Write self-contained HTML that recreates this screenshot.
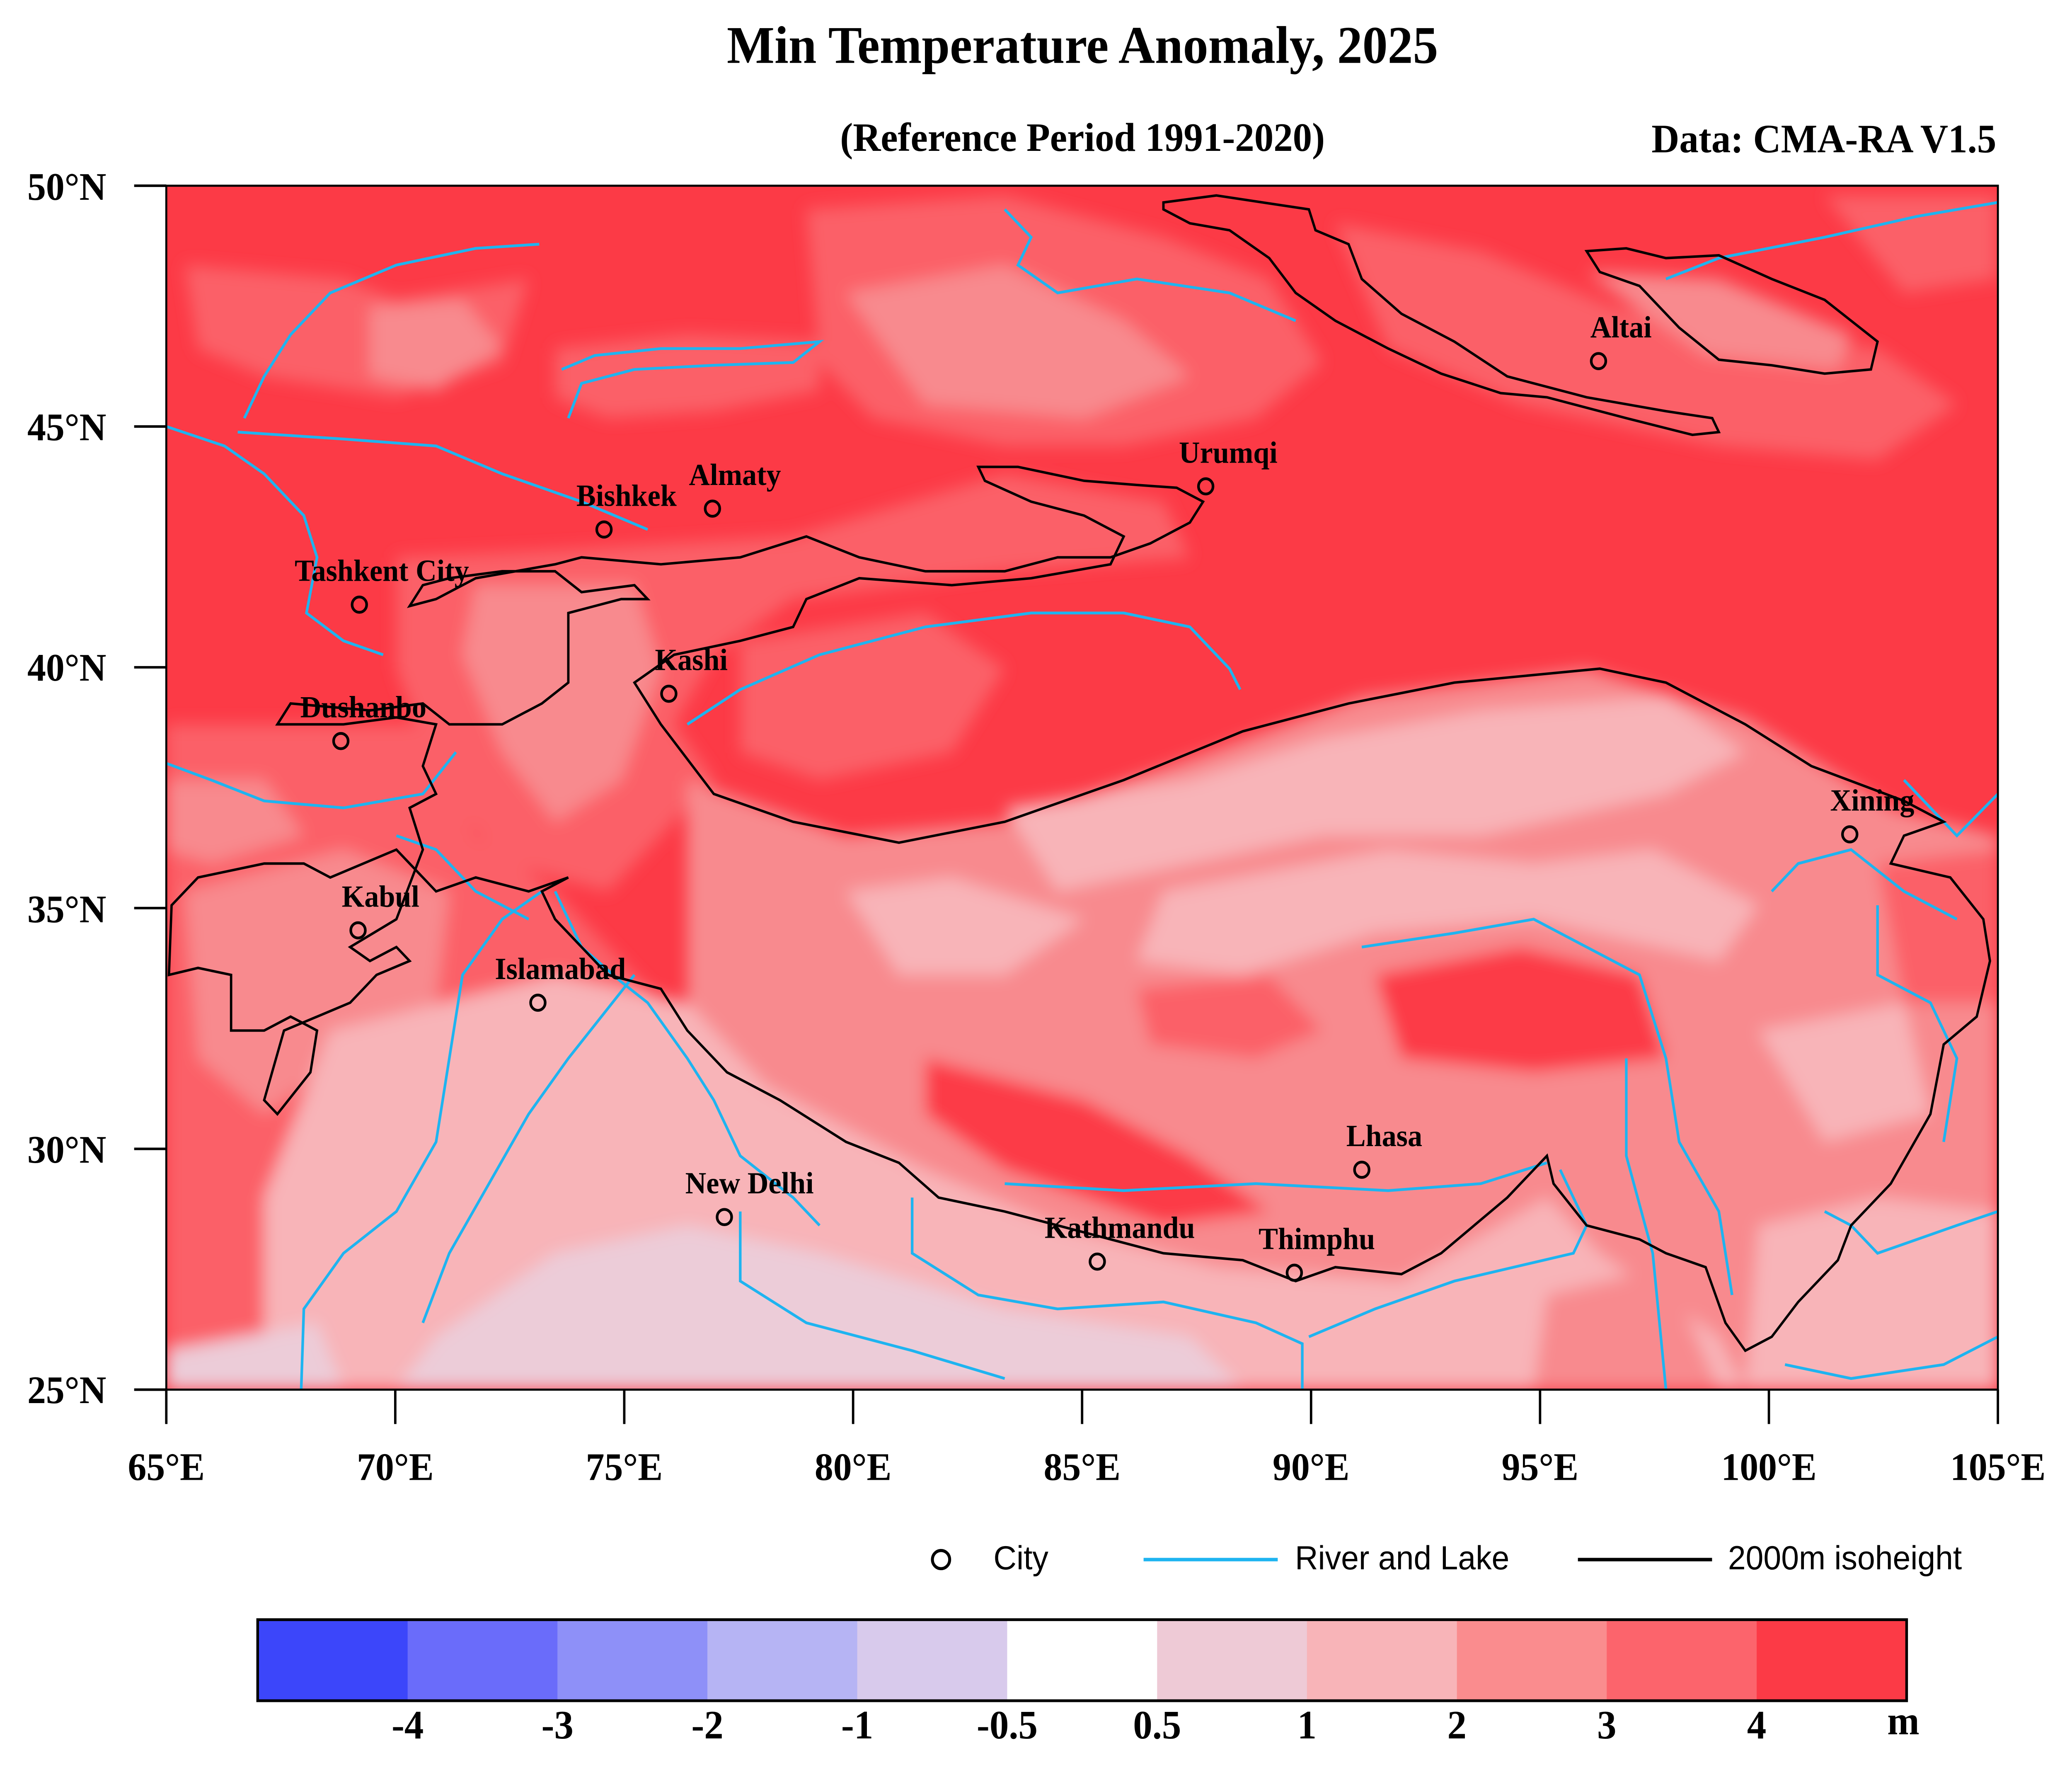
<!DOCTYPE html>
<html><head><meta charset="utf-8"><style>
html,body{margin:0;padding:0;background:#fff;width:100vw;height:100vh;overflow:hidden;}
#w{position:fixed;left:0;top:0;width:100vw;height:100vh;overflow:hidden;}
svg{display:block;width:100vw;height:100vh;}
</style></head><body><div id="w">
<svg xmlns="http://www.w3.org/2000/svg" viewBox="0 0 1560 1268" preserveAspectRatio="none">
<defs>
<filter id="b" x="-10%" y="-10%" width="120%" height="120%"><feGaussianBlur stdDeviation="6"/></filter>
<clipPath id="c"><rect x="126" y="133" width="1385" height="865"/></clipPath>
</defs>
<rect width="1560" height="1268" fill="#fff"/>
<g font-family="Liberation Serif, serif" font-weight="bold" fill="#000">
<text x="815" y="45" font-size="38" text-anchor="middle">Min Temperature Anomaly, 2025</text>
<text x="815" y="108" font-size="29" text-anchor="middle">(Reference Period 1991-2020)</text>
<text x="1503" y="109" font-size="29" text-anchor="end">Data: CMA-RA V1.5</text>
</g>
<g transform="translate(125.2,132.9) scale(0.99567,0.99595) translate(-126,-133)">
<g clip-path="url(#c)">
<rect x="126" y="133" width="1385" height="865" fill="#fc3a46"/>
<g filter="url(#b)">
<path d="M140,190 L260,200 L300,215 L400,200 L380,260 L300,285 L200,270 L150,250 Z" fill="#fb6068"/>
<path d="M280,220 L350,215 L380,250 L330,280 L280,270 Z" fill="#f88a8e"/>
<path d="M420,250 L520,240 L620,245 L620,280 L540,295 L460,300 L420,285 Z" fill="#fb6068"/>
<path d="M610,150 L760,140 L880,170 L960,200 L1000,260 L950,300 L850,320 L760,320 L660,300 L620,260 Z" fill="#fb6068"/>
<path d="M640,210 L760,190 L850,230 L900,270 L820,300 L700,290 Z" fill="#f88a8e"/>
<path d="M1010,160 L1120,180 L1220,220 L1420,250 L1480,290 L1420,330 L1300,320 L1150,290 L1050,250 Z" fill="#fb6068"/>
<path d="M1200,195 L1300,200 L1400,240 L1390,265 L1290,255 Z" fill="#f88a8e"/>
<path d="M1380,140 L1510,140 L1510,200 L1440,210 Z" fill="#fb6068"/>
<path d="M300,400 L420,395 L600,385 L760,340 L880,360 L900,400 L760,410 L600,430 L540,470 L510,520 L540,560 L500,600 L460,640 L380,620 L330,560 L300,480 Z" fill="#fb6068"/>
<path d="M360,420 L480,420 L500,480 L470,560 L420,590 L380,540 L350,470 Z" fill="#f88a8e"/>
<path d="M560,460 L700,440 L760,480 L720,540 L620,560 L560,540 Z" fill="#fb6068"/>
<path d="M126,520 L320,520 L360,600 L420,640 L480,700 L520,740 L520,998 L126,998 Z" fill="#fb6068"/>
<path d="M140,640 L260,610 L340,640 L330,720 L260,760 L200,800 L150,760 Z" fill="#f88a8e"/>
<path d="M126,560 L200,560 L230,600 L160,620 L126,610 Z" fill="#f88a8e"/>
<path d="M520,560 L640,600 L760,590 L900,545 L1030,500 L1200,480 L1320,515 L1430,580 L1511,600 L1511,998 L520,998 Z" fill="#f88a8e"/>
<path d="M760,580 L900,560 L1000,530 L1120,510 L1260,500 L1320,540 L1260,570 L1120,600 L1000,600 L900,620 L800,640 Z" fill="#f8b4b8"/>
<path d="M880,640 L1050,610 L1160,620 L1250,610 L1330,650 L1300,690 L1160,660 L1040,670 L940,700 L860,690 Z" fill="#f8b4b8"/>
<path d="M640,640 L720,630 L820,660 L760,700 L680,700 Z" fill="#f8b4b8"/>
<path d="M1040,700 L1150,680 L1240,700 L1260,760 L1160,770 L1060,760 Z" fill="#fc3a46"/>
<path d="M700,760 L820,790 L900,830 L960,870 L880,880 L760,840 L700,800 Z" fill="#fc3a46"/>
<path d="M860,710 L960,700 L1000,740 L950,760 L870,750 Z" fill="#fb6068"/>
<path d="M1420,620 L1511,610 L1511,720 L1440,720 Z" fill="#fb6068"/>
<path d="M1330,740 L1440,720 L1460,800 L1380,820 Z" fill="#f8b4b8"/>
<path d="M250,740 L420,700 L520,720 L580,780 L700,840 L800,880 L920,910 L1060,920 L1170,860 L1210,900 L1300,960 L1320,998 L200,998 L200,860 Z" fill="#f8b4b8"/>
<path d="M330,960 L420,900 L520,880 L620,900 L760,940 L900,960 L940,998 L300,998 Z" fill="#ecccd8"/>
<path d="M126,970 L240,950 L260,998 L126,998 Z" fill="#ecccd8"/>
<path d="M1170,930 L1260,910 L1300,998 L1160,998 Z" fill="#f88a8e"/>
<path d="M1330,880 L1420,860 L1511,870 L1511,998 L1320,998 Z" fill="#f8b4b8"/>
</g>
<g fill="none" stroke="#1eb4f0" stroke-width="2">
<path d="M408,175 L360,178 L300,190 L250,210 L220,240 L200,270 L185,300"/>
<path d="M126,306 L170,320 L200,340 L230,370 L240,400 L232,440 L260,460 L290,470"/>
<path d="M425,265 L450,255 L500,250 L560,250 L620,245 L600,260 L540,262 L480,265 L440,275 L430,300"/>
<path d="M180,310 L260,315 L330,320 L380,340 L440,360 L490,380"/>
<path d="M126,548 L160,560 L200,575 L260,580 L320,570 L345,540"/>
<path d="M520,520 L560,495 L620,470 L700,450 L780,440 L850,440 L900,450 L930,480 L938,495"/>
<path d="M420,640 L440,680 L470,705 L490,720 L520,760 L540,790 L560,830 L600,860 L620,880"/>
<path d="M410,640 L380,660 L350,700 L340,760 L330,820 L300,870 L260,900 L230,940 L228,998"/>
<path d="M480,700 L430,760 L400,800 L370,850 L340,900 L320,950"/>
<path d="M560,870 L560,920 L610,950 L690,970 L760,990"/>
<path d="M690,860 L690,900 L740,930 L800,940 L880,935 L950,950 L985,965 L985,998"/>
<path d="M760,850 L850,855 L950,850 L1050,855 L1120,850 L1170,835"/>
<path d="M1030,680 L1100,670 L1160,660 L1240,700 L1260,760 L1270,820 L1300,870 L1310,930"/>
<path d="M1180,840 L1200,880 L1190,900 L1100,920 L1040,940 L990,960"/>
<path d="M1340,640 L1360,620 L1400,610 L1440,640 L1480,660"/>
<path d="M1420,650 L1420,700 L1460,720 L1480,760 L1470,820"/>
<path d="M1380,870 L1400,880 L1420,900 L1480,880 L1511,870"/>
<path d="M1350,980 L1400,990 L1470,980 L1511,960"/>
<path d="M760,150 L780,170 L770,190 L800,210 L860,200 L930,210 L980,230"/>
<path d="M1260,200 L1300,185 L1380,170 L1450,155 L1511,145"/>
<path d="M1440,560 L1480,600 L1511,570"/>
<path d="M300,600 L330,610 L360,640 L400,660"/>
<path d="M1230,760 L1230,830 L1250,900 L1260,998"/>
</g>
<g fill="none" stroke="#000" stroke-width="1.8">
<path d="M520,545 L540,570 L600,590 L680,605 L760,590 L850,560 L940,525 L1020,505 L1100,490 L1210,480 L1260,490 L1320,520 L1370,550 L1440,575 L1470,590 L1440,600 L1430,620 L1475,630 L1500,660 L1505,690 L1495,730 L1470,750 L1460,800 L1430,850 L1400,880 L1390,905 L1360,935 L1340,960 L1320,970 L1305,950 L1290,910 L1260,900 L1240,890 L1200,880 L1175,850 L1170,830 L1140,860 L1090,900 L1060,915 L1010,910 L980,920 L940,905 L880,900 L840,890 L800,880 L760,870 L710,860 L680,835 L640,820 L590,790 L550,770 L520,740 L500,710 L460,700 L440,680 L420,660 L410,640 L430,630 L400,640 L360,630 L330,640 L300,610 L250,630 L230,620 L200,620 L150,630 L130,650 L128,700 L150,695 L175,700 L175,740 L200,740 L220,730 L240,740 L235,770 L210,800 L200,790 L215,740 L265,720 L285,700 L310,690 L300,680 L280,690 L265,680 L300,660 L320,610 L310,580 L330,570 L320,550 L330,520 L300,515 L260,520 L210,520 L220,505 L280,510 L320,505 L340,520 L380,520 L410,505 L430,490 L430,440 L470,430 L490,430 L480,420 L440,425 L420,410 L380,410 L340,415 L320,420 L310,435 L330,430 L360,415 L420,405 L440,400 L500,405 L560,400 L610,385 L650,400 L700,410 L760,410 L800,400 L840,400 L870,390 L900,375 L910,360 L890,350 L860,348 L820,345 L770,335 L740,335 L745,345 L780,360 L820,370 L850,385 L840,405 L780,415 L720,420 L650,415 L610,430 L600,450 L560,460 L510,470 L480,490 L500,520 Z"/>
<path d="M880,145 L920,140 L990,150 L995,165 L1020,175 L1030,200 L1060,225 L1100,245 L1140,270 L1200,285 L1260,295 L1295,300 L1300,310 L1280,312 L1230,300 L1170,285 L1135,282 L1090,268 L1050,250 L1010,230 L980,210 L960,185 L930,165 L900,160 L880,150 Z"/>
<path d="M1200,180 L1230,178 L1260,185 L1300,183 L1340,200 L1380,215 L1420,245 L1415,265 L1380,268 L1340,262 L1300,258 L1270,235 L1240,205 L1210,195 Z"/>
</g>
<g fill="none" stroke="#000" stroke-width="2">
<circle cx="1209" cy="259" r="5.5"/><circle cx="912" cy="349" r="5.5"/><circle cx="539" cy="365" r="5.5"/><circle cx="457" cy="380" r="5.5"/>
<circle cx="272" cy="434" r="5.5"/><circle cx="506" cy="498" r="5.5"/><circle cx="258" cy="532" r="5.5"/><circle cx="1399" cy="599" r="5.5"/>
<circle cx="271" cy="668" r="5.5"/><circle cx="407" cy="720" r="5.5"/><circle cx="1030" cy="840" r="5.5"/><circle cx="548" cy="874" r="5.5"/>
<circle cx="830" cy="906" r="5.5"/><circle cx="979" cy="914" r="5.5"/>
</g>
<g font-family="Liberation Serif, serif" font-weight="bold" font-size="22" text-anchor="middle" fill="#000">
<text x="1226" y="242">Altai</text><text x="929" y="332">Urumqi</text><text x="556" y="348">Almaty</text><text x="474" y="363">Bishkek</text>
<text x="289" y="417">Tashkent City</text><text x="523" y="481">Kashi</text><text x="275" y="515">Dushanbo</text><text x="1416" y="582">Xining</text>
<text x="288" y="651">Kabul</text><text x="424" y="703">Islamabad</text><text x="1047" y="823">Lhasa</text><text x="567" y="857">New Delhi</text>
<text x="847" y="889">Kathmandu</text><text x="996" y="897">Thimphu</text>
</g>
</g>
</g>
<rect x="125.2" y="132.9" width="1379" height="861.5" fill="none" stroke="#000" stroke-width="1.5"/>
<g stroke="#000" stroke-width="1.8">
<line x1="101" y1="132.9" x2="125.2" y2="132.9"/><line x1="101" y1="305.2" x2="125.2" y2="305.2"/><line x1="101" y1="477.5" x2="125.2" y2="477.5"/><line x1="101" y1="649.8" x2="125.2" y2="649.8"/><line x1="101" y1="822.1" x2="125.2" y2="822.1"/><line x1="101" y1="994.4" x2="125.2" y2="994.4"/>
<line x1="125.2" y1="994.4" x2="125.2" y2="1019"/><line x1="297.6" y1="994.4" x2="297.6" y2="1019"/><line x1="470" y1="994.4" x2="470" y2="1019"/><line x1="642.3" y1="994.4" x2="642.3" y2="1019"/><line x1="814.7" y1="994.4" x2="814.7" y2="1019"/><line x1="987.1" y1="994.4" x2="987.1" y2="1019"/><line x1="1159.5" y1="994.4" x2="1159.5" y2="1019"/><line x1="1331.8" y1="994.4" x2="1331.8" y2="1019"/><line x1="1504.2" y1="994.4" x2="1504.2" y2="1019"/>
</g>
<g font-family="Liberation Serif, serif" font-weight="bold" font-size="28" fill="#000">
<g text-anchor="end"><text x="80" y="143">50°N</text><text x="80" y="315">45°N</text><text x="80" y="487">40°N</text><text x="80" y="660">35°N</text><text x="80" y="832">30°N</text><text x="80" y="1004">25°N</text></g>
<g text-anchor="middle"><text x="125.2" y="1059">65°E</text><text x="297.6" y="1059">70°E</text><text x="470" y="1059">75°E</text><text x="642.3" y="1059">80°E</text><text x="814.7" y="1059">85°E</text><text x="987.1" y="1059">90°E</text><text x="1159.5" y="1059">95°E</text><text x="1331.8" y="1059">100°E</text><text x="1504.2" y="1059">105°E</text></g>
</g>
<circle cx="708.5" cy="1116" r="6.5" fill="none" stroke="#000" stroke-width="2.2"/>
<line x1="861" y1="1116" x2="962" y2="1116" stroke="#1eb4f0" stroke-width="2.5"/>
<line x1="1188" y1="1116" x2="1289" y2="1116" stroke="#000" stroke-width="2.5"/>
<g font-family="Liberation Sans, sans-serif" font-size="24" fill="#000">
<text x="748" y="1123">City</text><text x="975" y="1123">River and Lake</text><text x="1301" y="1123">2000m isoheight</text>
</g>
<g>
<rect x="194" y="1159" width="113.5" height="58" fill="#3c46fa"/>
<rect x="306.9" y="1159" width="113.5" height="58" fill="#6a6cfa"/>
<rect x="419.7" y="1159" width="113.5" height="58" fill="#8e90f8"/>
<rect x="532.6" y="1159" width="113.5" height="58" fill="#b6b4f4"/>
<rect x="645.4" y="1159" width="113.5" height="58" fill="#d8caec"/>
<rect x="758.3" y="1159" width="113.5" height="58" fill="#ffffff"/>
<rect x="871.2" y="1159" width="113.5" height="58" fill="#eecad6"/>
<rect x="984" y="1159" width="113.5" height="58" fill="#f8b4b8"/>
<rect x="1096.9" y="1159" width="113.5" height="58" fill="#fa8c8e"/>
<rect x="1209.7" y="1159" width="113.5" height="58" fill="#fc646c"/>
<rect x="1322.6" y="1159" width="112.9" height="58" fill="#fc3a46"/>
<rect x="194" y="1159" width="1241.5" height="58" fill="none" stroke="#000" stroke-width="2"/>
</g>
<g font-family="Liberation Serif, serif" font-weight="bold" font-size="29" text-anchor="middle" fill="#000">
<text x="306.9" y="1244">-4</text><text x="419.7" y="1244">-3</text><text x="532.6" y="1244">-2</text><text x="645.4" y="1244">-1</text><text x="758.3" y="1244">-0.5</text><text x="871.2" y="1244">0.5</text><text x="984" y="1244">1</text><text x="1096.9" y="1244">2</text><text x="1209.7" y="1244">3</text><text x="1322.6" y="1244">4</text><text x="1433" y="1241">m</text>
</g>
</svg></div>
</body></html>
